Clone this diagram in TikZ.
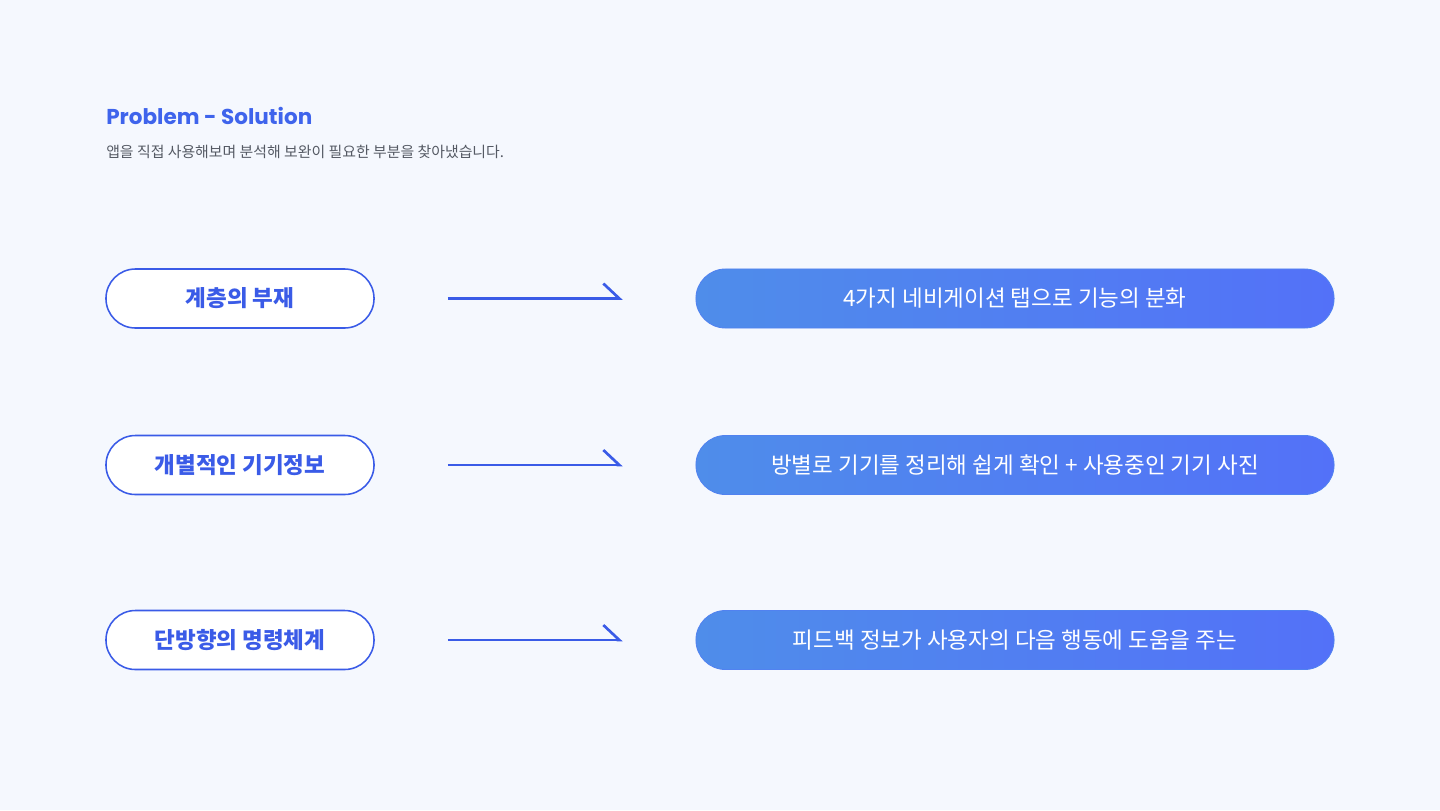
\documentclass[tikz,border=0pt]{standalone}
\usepackage{fontspec}
\setmainfont{Poppins}
\newfontfamily\kr{Noto Sans CJK KR}
\usetikzlibrary{arrows.meta}
\definecolor{bgpale}{HTML}{F5F8FE}
\definecolor{titleblue}{HTML}{3F64EC}
\definecolor{pillblue}{HTML}{3A5BE7}
\definecolor{gradleft}{HTML}{4F8DEA}
\definecolor{gradright}{HTML}{5371F8}
\definecolor{subgray}{HTML}{555A64}
\begin{document}
\begin{tikzpicture}[x=0.025cm, y=-0.025cm,
  problem/.style={draw=pillblue, line width=1.1pt, fill=white, rounded corners=0.7375cm,
    minimum width=6.7cm, minimum height=1.475cm, inner sep=0pt,
    font=\kr\bfseries\fontsize{16}{16}\selectfont, text=pillblue},
  solution/.style={left color=gradleft, right color=gradright, draw=gradleft!60!gradright,
    line width=0.6pt, rounded corners=0.7375cm, minimum width=15.95cm, minimum height=1.475cm,
    inner sep=0pt, font=\kr\fontsize{16}{16}\selectfont, text=white},
  flow/.style={draw=pillblue, line width=1.9pt, shorten <=1.825cm, shorten >=1.82cm,
    -{Straight Barb[harpoon, length=0.4cm, width=0.75cm, line width=1.9pt]}}]
\useasboundingbox[fill=bgpale] (0,0) rectangle (1440,810);

% Heading
\node[anchor=base west, inner sep=0pt, text=titleblue, font=\bfseries\fontsize{15.3}{15.3}\selectfont]
  (title) at (106,124) {Problem - Solution};
\node[anchor=base west, inner sep=0pt, text=subgray, font=\kr\fontsize{10.6}{10.6}\selectfont]
  (subtitle) at (106,157) {앱을 직접 사용해보며 분석해 보완이 필요한 부분을 찾아냈습니다.};

% Problems and solutions
\foreach \n/\y/\prob/\sol in {1/298.5/계층의 부재/4가지 네비게이션 탭으로 기능의 분화,
    2/465/개별적인 기기정보/방별로 기기를 정리해 쉽게 확인 + 사용중인 기기 사진,
    3/640/단방향의 명령체계/피드백 정보가 사용자의 다음 행동에 도움을 주는} {
  \node[problem] (p\n) at (240,\y) {\prob};
  \node[solution] (s\n) at (1015,\y) {\sol};
  \draw[flow] (p\n.east) -- (s\n.west);
}
\end{tikzpicture}
\end{document}
